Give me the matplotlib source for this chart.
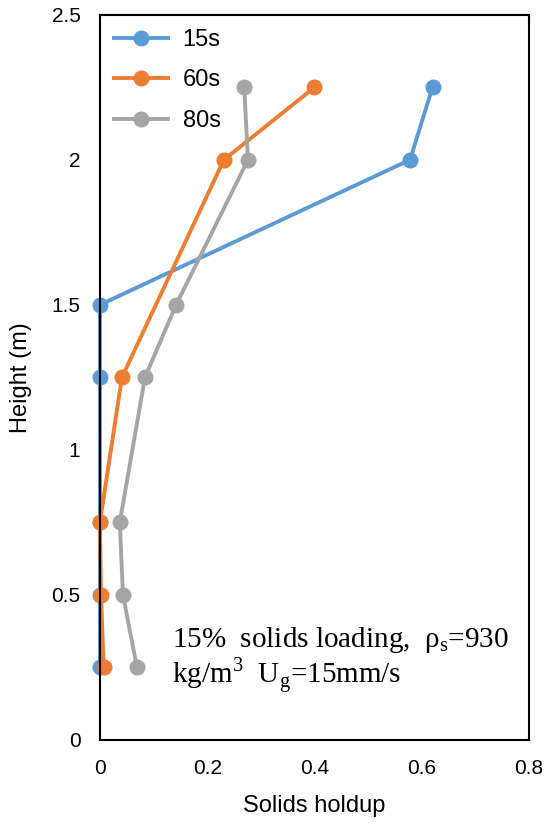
import matplotlib

matplotlib.use("Agg")
import matplotlib.pyplot as plt  # noqa: E402

plt.rcParams["font.family"] = ["Liberation Sans", "DejaVu Sans"]

heights_15 = [0.25, 0.5, 0.75, 1.25, 1.5, 2.0, 2.25]
holdup_15 = [0.0, 0.0, 0.0, 0.0, 0.0, 0.578, 0.62]
heights_60 = [0.25, 0.5, 0.75, 1.25, 2.0, 2.25]
holdup_60 = [0.007, 0.002, 0.0, 0.041, 0.231, 0.40]
heights_80 = [0.25, 0.5, 0.75, 1.25, 1.5, 2.0, 2.25]
holdup_80 = [0.069, 0.043, 0.037, 0.084, 0.142, 0.276, 0.269]

SERIES = [
    ("15s", holdup_15, heights_15, "#5b9bd5"),
    ("60s", holdup_60, heights_60, "#ed7d31"),
    ("80s", holdup_80, heights_80, "#a5a5a5"),
]

fig = plt.figure(figsize=(5.46, 8.23), dpi=100)
ax = fig.add_axes([0.183, 0.101, 0.786, 0.881])

for label, x, y, c in SERIES:
    ax.plot(x, y, color=c, lw=2.8, marker="o", ms=10.5, label=label, clip_on=False)

ax.set_xlim(0, 0.8)
ax.set_ylim(0, 2.5)
ax.set_xticks([0, 0.2, 0.4, 0.6, 0.8])
ax.set_xticklabels(["0", "0.2", "0.4", "0.6", "0.8"])
ax.set_yticks([0, 0.5, 1, 1.5, 2, 2.5])
ax.set_yticklabels(["0", "0.5", "1", "1.5", "2", "2.5"])
ax.tick_params(labelsize=15, length=0)
ax.tick_params(axis="x", pad=14)
ax.tick_params(axis="y", pad=14)
for s in ax.spines.values():
    s.set_linewidth(1.5)
    s.set_color("black")

ax.set_xlabel("Solids holdup", fontsize=17, labelpad=12)
ax.set_ylabel("Height (m)", fontsize=17, labelpad=14)

ax.legend(loc="upper left", fontsize=17, frameon=False, handlelength=2.3,
          borderaxespad=0.2, labelspacing=0.78, handletextpad=0.6,
          bbox_to_anchor=(0.0, 1.0))

ax.text(0.135, 0.274,
        "15%  solids loading,  $\\mathregular{\\rho_s}$=930\nkg/m$^{\\mathregular{3}}$  U$_{\\mathregular{g}}$=15mm/s",
        fontsize=21, family="Liberation Serif", va="center", ha="left",
        linespacing=1.0)

fig.savefig("out.png", dpi=100)
